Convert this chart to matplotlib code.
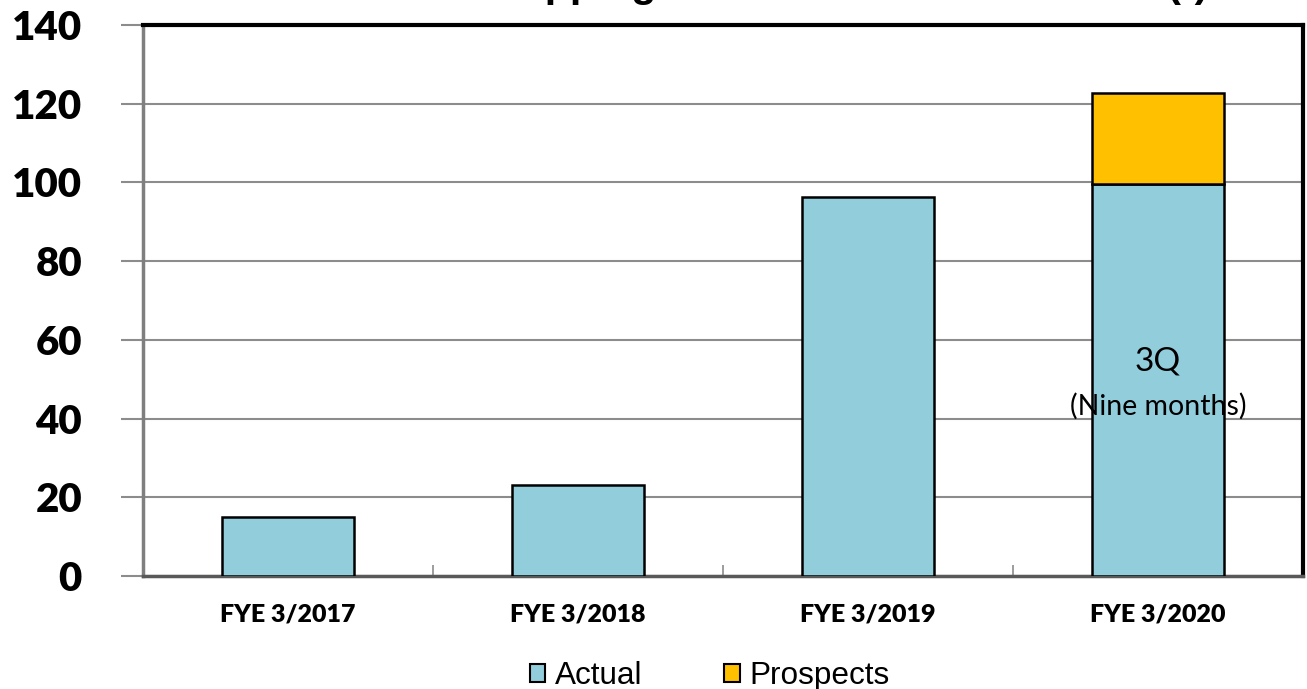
import matplotlib
matplotlib.use("Agg")
import matplotlib.pyplot as plt
from matplotlib.patches import Patch
import numpy as np

categories = ["FYE 3/2017", "FYE 3/2018", "FYE 3/2019", "FYE 3/2020"]
actual = [15.0, 23.0, 96.3, 99.6]
prospects = [0, 0, 0, 23.1]
y_ticks = [0, 20, 40, 60, 80, 100, 120, 140]
title_text = "Shipping Volume of Main Products (t)"

blue = "#92CDDC"
gold = "#FFC000"

fig = plt.figure(figsize=(13.07, 6.89), dpi=100)
ax = fig.add_axes([143/1307, 113/689, (1303-143)/1307, (576-25)/689])

x = np.arange(len(categories))
w = 0.455
ax.bar(x, actual, width=w, color=blue, edgecolor="black", linewidth=1.8, zorder=3)
ax.bar(x[3:], prospects[3:], width=w, bottom=actual[3:], color=gold,
       edgecolor="black", linewidth=1.8, zorder=3)

ax.set_xlim(-0.5, 3.5)
ax.set_ylim(0, 140)
ax.set_yticks(y_ticks)
ax.set_yticklabels([str(v) for v in y_ticks], fontfamily="Lato", fontweight="heavy", fontsize=29)
ax.yaxis.grid(True, color="#8c8c8c", linewidth=1.5, zorder=0)
ax.tick_params(axis="y", direction="out", length=16, width=1.5, color="#8c8c8c", pad=28)

ax.set_xticks(x)
ax.set_xticklabels(categories, fontfamily="Lato", fontweight="heavy", fontsize=18)
ax.tick_params(axis="x", which="major", length=0, pad=20)
ax.set_xticks([0.5, 1.5, 2.5], minor=True)
ax.tick_params(axis="x", which="minor", direction="in", length=8, width=1.2, color="#8c8c8c")

for s in ["top", "right"]:
    ax.spines[s].set_color("black")
    ax.spines[s].set_linewidth(3)
ax.spines["left"].set_color("#7f7f7f")
ax.spines["left"].set_linewidth(2.5)
ax.spines["bottom"].set_color("#595959")
ax.spines["bottom"].set_linewidth(2.5)

ax.text(3, 54.4, "3Q", ha="center", va="center", fontsize=24, fontfamily="Lato", zorder=4)
ax.text(3, 43, "(Nine months)", ha="center", va="center", fontsize=20.5, fontfamily="Lato", zorder=4)

fig.text(0.6465, 1.004, title_text, ha="center", va="baseline", fontsize=29.5,
         fontweight="bold", fontfamily="Liberation Sans")

handles = [Patch(facecolor=blue, edgecolor="black", linewidth=1.5, label="Actual"),
           Patch(facecolor=gold, edgecolor="black", linewidth=1.5, label="Prospects")]
fig.legend(handles=handles, loc="center", bbox_to_anchor=(0.543, 13/689), ncol=2,
           frameon=False, prop={"family": "Liberation Sans", "size": 22.7},
           handlelength=0.5, handleheight=0.5, handletextpad=0.3, columnspacing=2.6,
           borderpad=0)

fig.savefig("out.png", dpi=100)
